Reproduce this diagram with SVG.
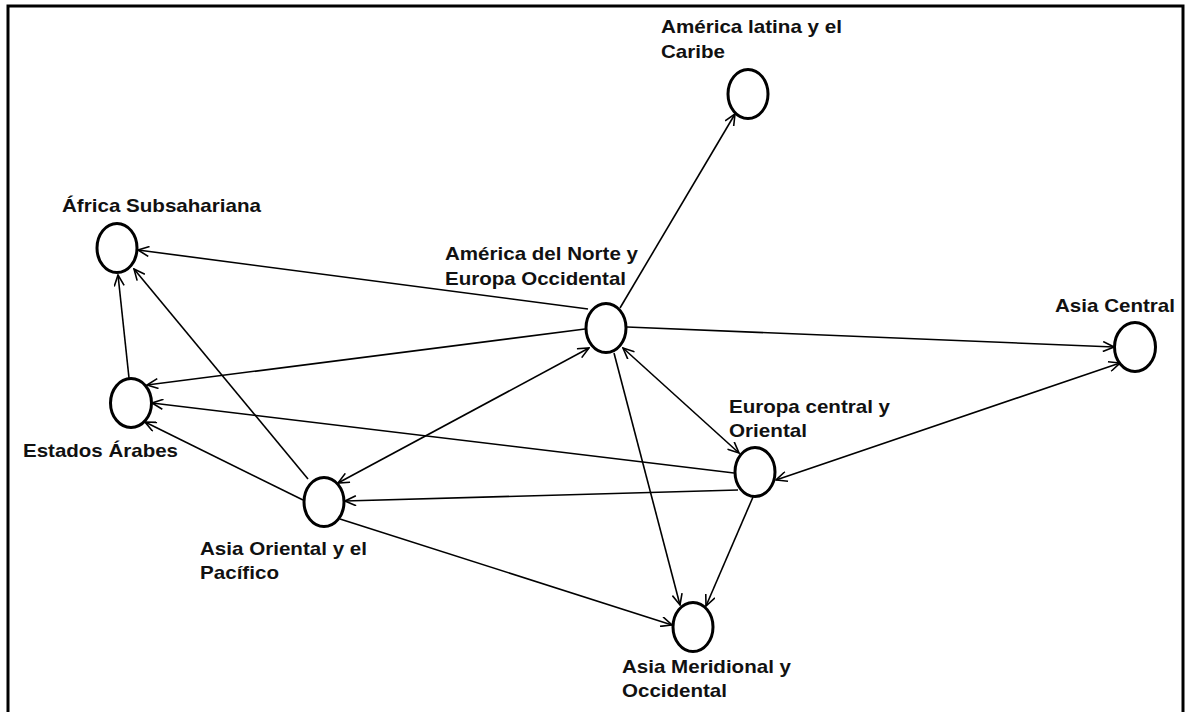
<svg xmlns="http://www.w3.org/2000/svg" width="1191" height="712" viewBox="0 0 1191 712">
  <defs>
    <style>
      .frame { fill: #ffffff; stroke: #000000; stroke-width: 3; }
      .node ellipse { fill: #ffffff; stroke: #000000; stroke-width: 3; }
      .node text { font-family: "Liberation Sans", Arial, sans-serif; font-weight: bold; font-size: 19px; fill: #111111; }
      .edge { fill: none; stroke: #000000; stroke-width: 1.6; marker-end: url(#arrow); }
      .edge.both { marker-start: url(#arrow); }
    </style>
    <marker id="arrow" viewBox="0 0 13 11" refX="12" refY="5.5" markerWidth="13" markerHeight="11" markerUnits="userSpaceOnUse" orient="auto-start-reverse">
      <path d="M1,0.5 L12,5.5 L1,10.5" fill="none" stroke="#000000" stroke-width="1.6"/>
    </marker>
  </defs>

  <rect class="frame" x="8" y="6" width="1175" height="720"/>

  <g id="connectors">
    <path class="edge" d="M620,308 L735,114"/>
    <path class="edge" d="M588,309 L138,250"/>
    <path class="edge" d="M627,327 L1114,347"/>
    <path class="edge" d="M585,329 L147,385"/>
    <path class="edge both" d="M338,483 L589,348"/>
    <path class="edge both" d="M623,348 L739,453"/>
    <path class="edge" d="M614,353 L680,605"/>
    <path class="edge both" d="M776,480 L1120,363"/>
    <path class="edge" d="M734,473 L152,403"/>
    <path class="edge" d="M738,490 L345,501"/>
    <path class="edge" d="M753,497 L706,606"/>
    <path class="edge" d="M303,500 L145,422"/>
    <path class="edge" d="M308,479 L134,269"/>
    <path class="edge" d="M129,378 L118,275"/>
    <path class="edge" d="M340,519 L672,625"/>
  </g>

  <g id="america-latina" class="node">
    <ellipse cx="748" cy="94" rx="20" ry="24.5"/>
    <text x="661" y="33" textLength="181" lengthAdjust="spacingAndGlyphs">América latina y el</text>
    <text x="661" y="58" textLength="64" lengthAdjust="spacingAndGlyphs">Caribe</text>
  </g>

  <g id="africa-subsahariana" class="node">
    <ellipse cx="117" cy="248" rx="20" ry="24.5"/>
    <text x="62" y="212" textLength="199" lengthAdjust="spacingAndGlyphs">África Subsahariana</text>
  </g>

  <g id="america-norte-europa-occidental" class="node">
    <ellipse cx="606" cy="328" rx="20" ry="24.5"/>
    <text x="445" y="260" textLength="193" lengthAdjust="spacingAndGlyphs">América del Norte y</text>
    <text x="445" y="285" textLength="181" lengthAdjust="spacingAndGlyphs">Europa Occidental</text>
  </g>

  <g id="asia-central" class="node">
    <ellipse cx="1135" cy="347" rx="20.5" ry="24.5"/>
    <text x="1055" y="312" textLength="120" lengthAdjust="spacingAndGlyphs">Asia Central</text>
  </g>

  <g id="estados-arabes" class="node">
    <ellipse cx="131" cy="403" rx="20.5" ry="24.5"/>
    <text x="23" y="457" textLength="155" lengthAdjust="spacingAndGlyphs">Estados Árabes</text>
  </g>

  <g id="asia-oriental-pacifico" class="node">
    <ellipse cx="324" cy="502" rx="20" ry="24.5"/>
    <text x="200" y="555" textLength="167" lengthAdjust="spacingAndGlyphs">Asia Oriental y el</text>
    <text x="200" y="579" textLength="79" lengthAdjust="spacingAndGlyphs">Pacífico</text>
  </g>

  <g id="europa-central-oriental" class="node">
    <ellipse cx="755" cy="472" rx="20" ry="24.5"/>
    <text x="729" y="413" textLength="161" lengthAdjust="spacingAndGlyphs">Europa central y</text>
    <text x="729" y="437" textLength="78" lengthAdjust="spacingAndGlyphs">Oriental</text>
  </g>

  <g id="asia-meridional-occidental" class="node">
    <ellipse cx="693" cy="627" rx="20" ry="24.5"/>
    <text x="622" y="673" textLength="169" lengthAdjust="spacingAndGlyphs">Asia Meridional y</text>
    <text x="622" y="697" textLength="105" lengthAdjust="spacingAndGlyphs">Occidental</text>
  </g>
</svg>
